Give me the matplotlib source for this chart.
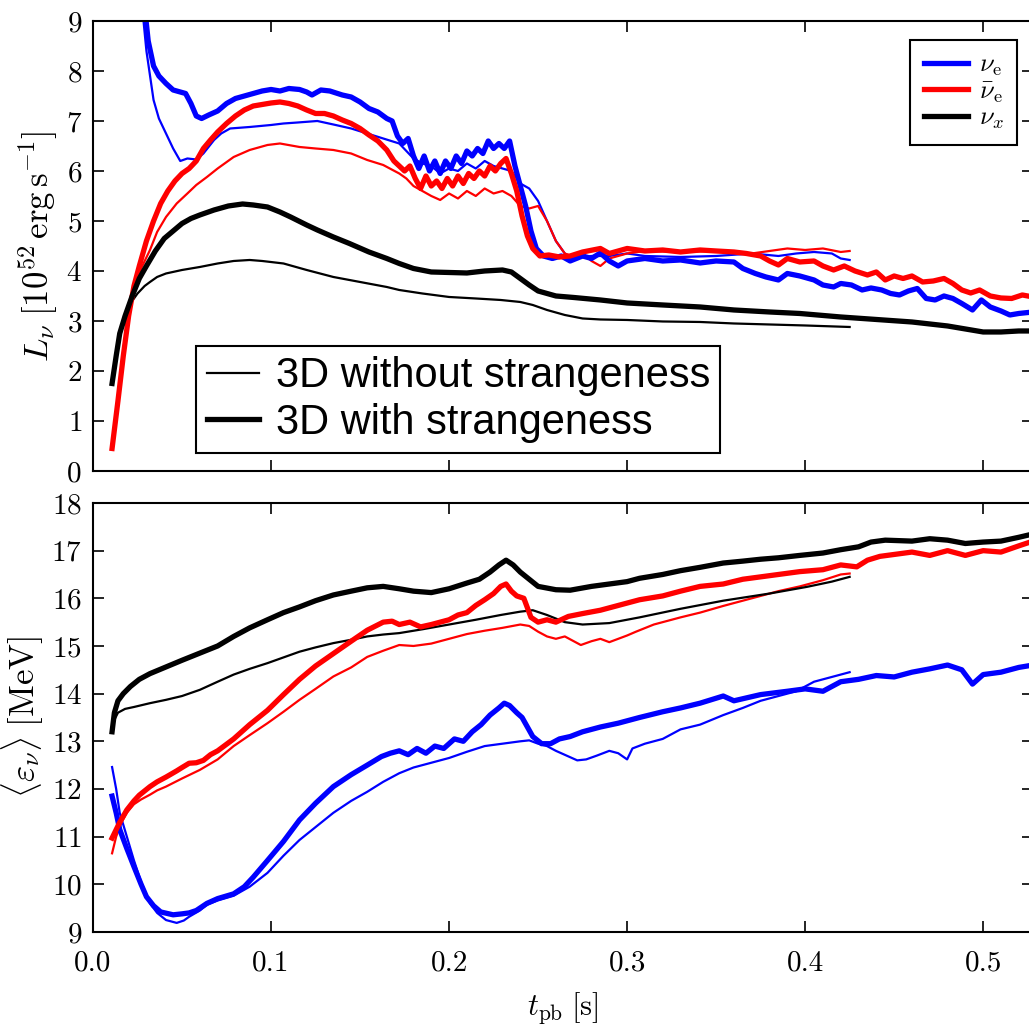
import matplotlib
matplotlib.use('Agg')
import matplotlib.pyplot as plt
from matplotlib.lines import Line2D
from matplotlib.font_manager import FontProperties

# ---- luminosity panel (top) ----
# thick = 3D with strangeness, thin = 3D without strangeness
t_lum_nue_s = [0.028, 0.031, 0.034, 0.037, 0.041, 0.045, 0.049, 0.052, 0.055, 0.058, 0.061, 0.065, 0.07, 0.075, 0.08, 0.085, 0.09, 0.095, 0.1, 0.105, 0.11, 0.116, 0.12, 0.123, 0.128, 0.133, 0.14, 0.145, 0.15, 0.155, 0.16, 0.165, 0.168, 0.171, 0.174, 0.177, 0.18, 0.183, 0.186, 0.189, 0.192, 0.195, 0.198, 0.201, 0.204, 0.207, 0.21, 0.213, 0.216, 0.219, 0.222, 0.225, 0.228, 0.231, 0.234, 0.237, 0.24, 0.243, 0.246, 0.249, 0.253, 0.258, 0.263, 0.268, 0.275, 0.28, 0.285, 0.29, 0.295, 0.3, 0.31, 0.32, 0.33, 0.341, 0.35, 0.36, 0.365, 0.372, 0.378, 0.385, 0.39, 0.397, 0.405, 0.41, 0.416, 0.42, 0.426, 0.432, 0.437, 0.443, 0.448, 0.453, 0.458, 0.463, 0.468, 0.473, 0.478, 0.483, 0.488, 0.494, 0.499, 0.504, 0.51, 0.515, 0.52, 0.528]
lum_nue_s = [9.6, 8.6, 8.1, 7.9, 7.75, 7.62, 7.58, 7.55, 7.35, 7.1, 7.05, 7.12, 7.2, 7.35, 7.45, 7.5, 7.55, 7.6, 7.63, 7.6, 7.65, 7.63, 7.58, 7.52, 7.62, 7.6, 7.52, 7.48, 7.38, 7.25, 7.18, 7.05, 7.0, 6.7, 6.55, 6.65, 6.3, 6.05, 6.3, 6.0, 6.2, 5.95, 6.2, 6.05, 6.3, 6.15, 6.4, 6.3, 6.45, 6.35, 6.6, 6.45, 6.55, 6.45, 6.6, 6.1, 5.7, 5.3, 4.8, 4.45, 4.3, 4.25, 4.3, 4.2, 4.3, 4.25, 4.36, 4.2, 4.1, 4.2, 4.25, 4.2, 4.22, 4.16, 4.2, 4.18, 4.05, 3.95, 3.88, 3.82, 3.95, 3.9, 3.82, 3.72, 3.68, 3.75, 3.72, 3.62, 3.66, 3.62, 3.55, 3.52, 3.6, 3.65, 3.45, 3.42, 3.5, 3.45, 3.35, 3.22, 3.42, 3.28, 3.2, 3.12, 3.15, 3.18]

t_lum_nueb_s = [0.0107, 0.014, 0.017, 0.02, 0.023, 0.026, 0.03, 0.034, 0.038, 0.042, 0.046, 0.05, 0.054, 0.058, 0.062, 0.066, 0.07, 0.075, 0.08, 0.085, 0.09, 0.095, 0.1, 0.105, 0.11, 0.115, 0.12, 0.125, 0.13, 0.135, 0.14, 0.145, 0.15, 0.155, 0.16, 0.165, 0.169, 0.172, 0.175, 0.178, 0.181, 0.184, 0.187, 0.19, 0.193, 0.196, 0.199, 0.202, 0.205, 0.208, 0.211, 0.214, 0.217, 0.22, 0.223, 0.226, 0.229, 0.232, 0.235, 0.238, 0.241, 0.244, 0.247, 0.251, 0.256, 0.262, 0.268, 0.275, 0.285, 0.29, 0.295, 0.3, 0.31, 0.32, 0.33, 0.341, 0.35, 0.36, 0.367, 0.375, 0.38, 0.385, 0.39, 0.397, 0.405, 0.41, 0.416, 0.422, 0.428, 0.435, 0.44, 0.445, 0.45, 0.455, 0.46, 0.466, 0.472, 0.478, 0.483, 0.488, 0.493, 0.498, 0.504, 0.51, 0.516, 0.522, 0.528]
lum_nueb_s = [0.45, 1.4, 2.3, 3.1, 3.7, 4.1, 4.6, 5.0, 5.35, 5.6, 5.8, 5.95, 6.05, 6.2, 6.45, 6.62, 6.78, 6.95, 7.1, 7.22, 7.3, 7.33, 7.36, 7.38, 7.35, 7.3, 7.22, 7.15, 7.15, 7.1, 7.02, 6.95, 6.85, 6.72, 6.6, 6.42, 6.2, 6.1, 6.0, 6.1, 5.85, 5.65, 5.9, 5.7, 5.8, 5.65, 5.85, 5.7, 5.9, 5.75, 5.95, 5.85, 6.0, 5.9, 6.1, 6.0, 6.15, 6.25, 5.95, 5.6, 5.1, 4.7, 4.45, 4.3, 4.32, 4.28, 4.3, 4.38, 4.45, 4.35, 4.4, 4.45, 4.4, 4.42, 4.38, 4.42, 4.4, 4.38, 4.35, 4.3, 4.2, 4.12, 4.25, 4.18, 4.2, 4.1, 4.02, 4.1, 4.0, 3.92, 3.98, 3.82, 3.9, 3.85, 3.9, 3.78, 3.8, 3.85, 3.75, 3.62, 3.56, 3.62, 3.5, 3.46, 3.45, 3.52, 3.48]

t_lum_nux_s = [0.0107, 0.013, 0.015, 0.018, 0.022, 0.026, 0.03, 0.035, 0.04, 0.045, 0.05, 0.055, 0.06, 0.068, 0.076, 0.084, 0.09, 0.098, 0.105, 0.111, 0.12, 0.126, 0.135, 0.144, 0.155, 0.165, 0.172, 0.18, 0.19, 0.2, 0.21, 0.22, 0.23, 0.235, 0.24, 0.245, 0.25, 0.26, 0.27, 0.285, 0.3, 0.32, 0.341, 0.36, 0.38, 0.397, 0.42, 0.44, 0.46, 0.48, 0.49, 0.5, 0.51, 0.52, 0.528]
lum_nux_s = [1.75, 2.3, 2.75, 3.1, 3.5, 3.85, 4.1, 4.4, 4.65, 4.8, 4.95, 5.05, 5.12, 5.22, 5.3, 5.34, 5.32, 5.28, 5.18, 5.08, 4.92, 4.82, 4.68, 4.55, 4.38, 4.25, 4.15, 4.05, 3.98, 3.97, 3.96, 4.0, 4.02, 3.98, 3.85, 3.72, 3.6, 3.5, 3.47, 3.42, 3.36, 3.32, 3.28, 3.22, 3.18, 3.15, 3.08, 3.03, 2.98, 2.9, 2.84, 2.78, 2.78, 2.8, 2.8]

t_lum_nue = [0.027, 0.03, 0.034, 0.037, 0.041, 0.045, 0.049, 0.053, 0.058, 0.062, 0.068, 0.072, 0.077, 0.088, 0.1, 0.107, 0.115, 0.126, 0.135, 0.145, 0.154, 0.163, 0.172, 0.176, 0.18, 0.185, 0.19, 0.195, 0.2, 0.205, 0.21, 0.215, 0.22, 0.225, 0.23, 0.235, 0.24, 0.245, 0.25, 0.255, 0.26, 0.265, 0.27, 0.28, 0.29, 0.3, 0.31, 0.33, 0.35, 0.37, 0.385, 0.395, 0.405, 0.415, 0.42, 0.425]
lum_nue = [9.5, 8.4, 7.42, 7.05, 6.75, 6.45, 6.2, 6.25, 6.23, 6.35, 6.62, 6.75, 6.85, 6.88, 6.92, 6.95, 6.97, 7.0, 6.93, 6.85, 6.75, 6.65, 6.55, 6.4, 6.25, 6.15, 6.1, 5.95, 6.05, 6.0, 6.15, 6.05, 6.2, 6.1, 6.05, 6.0, 5.75, 5.65, 5.4, 5.0, 4.6, 4.35, 4.25, 4.3, 4.3, 4.35, 4.3, 4.28, 4.3, 4.35, 4.3, 4.35, 4.38, 4.35, 4.25, 4.22]

t_lum_nueb = [0.0107, 0.014, 0.017, 0.02, 0.023, 0.027, 0.032, 0.036, 0.041, 0.047, 0.053, 0.058, 0.064, 0.07, 0.079, 0.088, 0.098, 0.105, 0.116, 0.125, 0.135, 0.145, 0.154, 0.163, 0.172, 0.176, 0.18, 0.185, 0.19, 0.195, 0.2, 0.205, 0.21, 0.215, 0.22, 0.225, 0.23, 0.235, 0.24, 0.245, 0.25, 0.255, 0.26, 0.265, 0.27, 0.275, 0.28, 0.285, 0.29, 0.3, 0.31, 0.33, 0.35, 0.37, 0.38, 0.39, 0.4, 0.41, 0.42, 0.425]
lum_nueb = [0.5, 1.5, 2.4, 3.1, 3.62, 4.05, 4.42, 4.78, 5.08, 5.35, 5.55, 5.72, 5.88, 6.05, 6.28, 6.42, 6.52, 6.55, 6.48, 6.45, 6.42, 6.35, 6.22, 6.12, 5.95, 5.85, 5.7, 5.6, 5.5, 5.42, 5.55, 5.45, 5.6, 5.5, 5.65, 5.55, 5.6, 5.5, 5.3, 5.25, 5.3, 5.0, 4.6, 4.35, 4.28, 4.35, 4.2, 4.1, 4.25, 4.35, 4.4, 4.38, 4.4, 4.35, 4.4, 4.45, 4.42, 4.45, 4.38, 4.4]

t_lum_nux = [0.0107, 0.013, 0.015, 0.018, 0.021, 0.025, 0.029, 0.032, 0.036, 0.041, 0.05, 0.06, 0.07, 0.079, 0.088, 0.095, 0.107, 0.12, 0.135, 0.15, 0.165, 0.172, 0.185, 0.2, 0.215, 0.229, 0.24, 0.247, 0.255, 0.265, 0.275, 0.285, 0.3, 0.32, 0.341, 0.36, 0.38, 0.4, 0.425]
lum_nux = [1.75, 2.3, 2.7, 3.05, 3.35, 3.55, 3.7, 3.78, 3.88, 3.95, 4.02, 4.08, 4.15, 4.2, 4.22, 4.2, 4.15, 4.02, 3.88, 3.78, 3.68, 3.62, 3.55, 3.48, 3.45, 3.42, 3.38, 3.32, 3.22, 3.12, 3.05, 3.03, 3.02, 2.99, 2.98, 2.95, 2.93, 2.91, 2.88]

# ---- mean energy panel (bottom) ----
t_en_nue_s = [0.0107, 0.013, 0.015, 0.019, 0.023, 0.027, 0.03, 0.034, 0.038, 0.045, 0.05, 0.054, 0.058, 0.064, 0.07, 0.079, 0.085, 0.09, 0.098, 0.107, 0.116, 0.125, 0.135, 0.145, 0.154, 0.162, 0.167, 0.172, 0.177, 0.182, 0.187, 0.192, 0.197, 0.203, 0.208, 0.213, 0.218, 0.223, 0.228, 0.231, 0.234, 0.238, 0.241, 0.244, 0.247, 0.252, 0.257, 0.262, 0.268, 0.275, 0.285, 0.295, 0.307, 0.32, 0.33, 0.341, 0.354, 0.36, 0.375, 0.39, 0.4, 0.41, 0.42, 0.43, 0.44, 0.45, 0.46, 0.47, 0.48, 0.488, 0.494, 0.5, 0.51, 0.52, 0.528]
en_nue_s = [11.85, 11.5, 11.15, 10.75, 10.37, 10.0, 9.74, 9.55, 9.42, 9.36, 9.38, 9.4, 9.45, 9.6, 9.7, 9.8, 9.95, 10.15, 10.5, 10.9, 11.35, 11.7, 12.05, 12.3, 12.5, 12.68, 12.75, 12.8, 12.72, 12.85, 12.75, 12.9, 12.85, 13.05, 13.0, 13.2, 13.35, 13.55, 13.7, 13.8, 13.75, 13.6, 13.5, 13.3, 13.1, 12.95, 12.95, 13.05, 13.1, 13.2, 13.3, 13.38, 13.5, 13.62, 13.7, 13.8, 13.95, 13.85, 13.98, 14.05, 14.1, 14.05, 14.25, 14.3, 14.38, 14.35, 14.45, 14.52, 14.6, 14.5, 14.2, 14.4, 14.45, 14.55, 14.6]

t_en_nueb_s = [0.0107, 0.015, 0.019, 0.023, 0.026, 0.032, 0.036, 0.041, 0.047, 0.05, 0.054, 0.058, 0.062, 0.066, 0.07, 0.079, 0.088, 0.098, 0.107, 0.116, 0.125, 0.135, 0.145, 0.154, 0.163, 0.168, 0.172, 0.178, 0.184, 0.19, 0.195, 0.2, 0.205, 0.21, 0.215, 0.22, 0.225, 0.229, 0.232, 0.235, 0.238, 0.242, 0.246, 0.25, 0.255, 0.26, 0.267, 0.275, 0.285, 0.295, 0.307, 0.32, 0.33, 0.341, 0.354, 0.365, 0.375, 0.385, 0.397, 0.41, 0.42, 0.429, 0.435, 0.442, 0.45, 0.46, 0.47, 0.48, 0.49, 0.5, 0.51, 0.52, 0.528]
en_nueb_s = [10.97, 11.3, 11.56, 11.75, 11.87, 12.05, 12.15, 12.25, 12.38, 12.45, 12.54, 12.55, 12.6, 12.72, 12.8, 13.05, 13.35, 13.65, 13.98, 14.3, 14.58, 14.84, 15.1, 15.33, 15.5, 15.52, 15.45, 15.5, 15.4, 15.45, 15.5, 15.55, 15.65, 15.7, 15.85, 15.97, 16.1, 16.25, 16.3, 16.15, 16.05, 16.0, 15.6, 15.5, 15.55, 15.5, 15.62, 15.68, 15.75, 15.85, 15.97, 16.05, 16.15, 16.25, 16.3, 16.4, 16.45, 16.5, 16.56, 16.6, 16.7, 16.66, 16.8, 16.88, 16.92, 16.97, 16.9, 17.0, 16.9, 17.0, 16.97, 17.1, 17.2]

t_en_nux_s = [0.0107, 0.012, 0.014, 0.017, 0.021, 0.026, 0.032, 0.041, 0.05, 0.06, 0.07, 0.079, 0.088, 0.098, 0.107, 0.116, 0.125, 0.135, 0.145, 0.154, 0.163, 0.172, 0.18, 0.19, 0.2, 0.21, 0.217, 0.223, 0.228, 0.232, 0.236, 0.24, 0.245, 0.25, 0.26, 0.268, 0.28, 0.29, 0.3, 0.307, 0.32, 0.33, 0.341, 0.354, 0.365, 0.375, 0.385, 0.397, 0.41, 0.42, 0.43, 0.437, 0.445, 0.46, 0.47, 0.48, 0.49, 0.5, 0.51, 0.52, 0.528]
en_nux_s = [13.2, 13.6, 13.85, 14.0, 14.15, 14.3, 14.42, 14.56, 14.7, 14.85, 15.0, 15.2, 15.38, 15.55, 15.7, 15.82, 15.95, 16.07, 16.15, 16.22, 16.25, 16.2, 16.15, 16.12, 16.2, 16.32, 16.4, 16.55, 16.7, 16.8, 16.7, 16.55, 16.4, 16.25, 16.18, 16.17, 16.25, 16.3, 16.35, 16.42, 16.5, 16.58, 16.65, 16.74, 16.78, 16.82, 16.85, 16.9, 16.95, 17.02, 17.08, 17.18, 17.22, 17.2, 17.25, 17.22, 17.15, 17.18, 17.2, 17.28, 17.35]

t_en_nue = [0.0107, 0.013, 0.015, 0.019, 0.023, 0.027, 0.032, 0.036, 0.041, 0.047, 0.051, 0.054, 0.06, 0.064, 0.07, 0.079, 0.088, 0.098, 0.107, 0.116, 0.125, 0.135, 0.145, 0.154, 0.163, 0.172, 0.18, 0.19, 0.2, 0.21, 0.22, 0.23, 0.24, 0.245, 0.25, 0.255, 0.26, 0.266, 0.272, 0.277, 0.283, 0.29, 0.295, 0.3, 0.303, 0.31, 0.32, 0.33, 0.341, 0.354, 0.365, 0.375, 0.385, 0.395, 0.405, 0.415, 0.425]
en_nue = [12.46, 12.0, 11.5, 11.0, 10.5, 10.05, 9.6, 9.4, 9.25, 9.19, 9.24, 9.32, 9.45, 9.57, 9.66, 9.76, 9.95, 10.24, 10.6, 10.93, 11.2, 11.5, 11.75, 11.94, 12.15, 12.33, 12.45, 12.55, 12.65, 12.78, 12.9, 12.95, 13.0, 13.02, 12.95, 12.9, 12.8, 12.7, 12.6, 12.62, 12.7, 12.8, 12.75, 12.62, 12.85, 12.95, 13.05, 13.25, 13.35, 13.55, 13.7, 13.85, 13.95, 14.05, 14.25, 14.35, 14.45]

t_en_nueb = [0.0107, 0.013, 0.016, 0.019, 0.023, 0.027, 0.032, 0.036, 0.041, 0.05, 0.06, 0.07, 0.079, 0.088, 0.098, 0.107, 0.116, 0.125, 0.135, 0.145, 0.154, 0.163, 0.172, 0.18, 0.19, 0.2, 0.21, 0.22, 0.23, 0.24, 0.245, 0.25, 0.255, 0.26, 0.265, 0.27, 0.274, 0.28, 0.285, 0.29, 0.295, 0.3, 0.305, 0.315, 0.33, 0.341, 0.354, 0.365, 0.375, 0.385, 0.397, 0.41, 0.42, 0.425]
en_nueb = [10.65, 11.0, 11.3, 11.5, 11.68, 11.78, 11.88, 11.97, 12.05, 12.22, 12.4, 12.62, 12.9, 13.13, 13.38, 13.62, 13.87, 14.1, 14.36, 14.55, 14.77, 14.9, 15.02, 15.0, 15.05, 15.15, 15.25, 15.32, 15.38, 15.45, 15.42, 15.3, 15.2, 15.15, 15.2, 15.1, 15.02, 15.1, 15.15, 15.08, 15.15, 15.22, 15.3, 15.45, 15.6, 15.7, 15.84, 15.95, 16.05, 16.15, 16.25, 16.38, 16.5, 16.52]

t_en_nux = [0.0107, 0.012, 0.014, 0.018, 0.023, 0.032, 0.041, 0.05, 0.06, 0.07, 0.079, 0.088, 0.098, 0.107, 0.116, 0.125, 0.135, 0.145, 0.154, 0.163, 0.172, 0.185, 0.2, 0.215, 0.229, 0.24, 0.247, 0.255, 0.265, 0.275, 0.29, 0.307, 0.33, 0.354, 0.38, 0.401, 0.415, 0.425]
en_nux = [13.2, 13.45, 13.6, 13.68, 13.72, 13.8, 13.87, 13.95, 14.08, 14.25, 14.4, 14.52, 14.64, 14.76, 14.88, 14.97, 15.06, 15.13, 15.2, 15.24, 15.27, 15.35, 15.45, 15.55, 15.65, 15.72, 15.75, 15.65, 15.5, 15.45, 15.48, 15.6, 15.78, 15.95, 16.1, 16.24, 16.35, 16.45]

flavour_labels = [r'$\nu_\mathrm{e}$', r'$\bar{\nu}_\mathrm{e}$', r'$\nu_x$']
model_labels = ['3D without strangeness', '3D with strangeness']
colors = ['#0000ff', '#ff0000', '#000000']

plt.rcParams['font.family'] = 'serif'
plt.rcParams['font.serif'] = ['cmr10', 'DejaVu Serif']
plt.rcParams['mathtext.fontset'] = 'cm'
plt.rcParams['axes.unicode_minus'] = False
plt.rcParams['axes.formatter.use_mathtext'] = True

THIN = 1.6
THICK = 3.8

fig = plt.figure(figsize=(10.29, 10.29), dpi=100)
ax1 = fig.add_axes([0.0904, 0.5423, 0.9135, 0.4373])
ax2 = fig.add_axes([0.0904, 0.0943, 0.9135, 0.4169])

top_thin = [(t_lum_nue, lum_nue), (t_lum_nueb, lum_nueb), (t_lum_nux, lum_nux)]
top_thick = [(t_lum_nue_s, lum_nue_s), (t_lum_nueb_s, lum_nueb_s), (t_lum_nux_s, lum_nux_s)]
bot_thin = [(t_en_nue, en_nue), (t_en_nueb, en_nueb), (t_en_nux, en_nux)]
bot_thick = [(t_en_nue_s, en_nue_s), (t_en_nueb_s, en_nueb_s), (t_en_nux_s, en_nux_s)]

for ax, thin, thick in [(ax1, top_thin, top_thick), (ax2, bot_thin, bot_thick)]:
    for (t, y), c in zip(thin, colors):
        ax.plot(t, y, color=c, lw=THIN)
    for (t, y), c in zip(thick, colors):
        ax.plot(t, y, color=c, lw=THICK)

for ax in (ax1, ax2):
    ax.set_xlim(0, 0.528)
    ax.set_xticks([0.0, 0.1, 0.2, 0.3, 0.4, 0.5])
    ax.tick_params(direction='in', top=True, right=True, length=8, width=1.2,
                   labelsize=21)
    ax.tick_params(axis='y', pad=8)
    ax.tick_params(axis='x', pad=13)
    for sp in ax.spines.values():
        sp.set_linewidth(1.5)

ax1.set_ylim(0, 9)
ax1.set_yticks(range(0, 10))
ax1.tick_params(labelbottom=False)
ax1.set_ylabel(r'$L_\nu\;[10^{52}\,\mathrm{erg\,s^{-1}}]$', fontsize=25, labelpad=4)

ax2.set_ylim(9, 18)
ax2.set_yticks(range(9, 19))
ax2.set_xticklabels(['0.0', '0.1', '0.2', '0.3', '0.4', '0.5'])
ax2.set_ylabel(r'$\langle\varepsilon_\nu\rangle\;[\mathrm{MeV}]$', fontsize=25, labelpad=4)
ax2.set_xlabel(r'$t_\mathrm{pb}\;[\mathrm{s}]$', fontsize=22, labelpad=10)
fig.align_ylabels([ax1, ax2])

# legend for the models (line thickness)
model_handles = [Line2D([], [], color='k', lw=THIN), Line2D([], [], color='k', lw=THICK)]
leg1 = ax1.legend(model_handles, model_labels, loc='lower left',
                  bbox_to_anchor=(0.11, 0.04), borderaxespad=0,
                  prop=FontProperties(family='Liberation Sans', size=30),
                  frameon=True, fancybox=False, edgecolor='k', framealpha=1,
                  handlelength=1.25, handletextpad=0.4, labelspacing=0.15,
                  borderpad=0.25)
leg1.get_frame().set_linewidth(1.5)
ax1.add_artist(leg1)

# legend for the flavours (colour)
flav_handles = [Line2D([], [], color=c, lw=THICK) for c in colors]
leg2 = ax1.legend(flav_handles, flavour_labels, loc='upper right',
                  bbox_to_anchor=(0.983, 0.958), borderaxespad=0,
                  fontsize=19, frameon=True, fancybox=False, edgecolor='k',
                  framealpha=1, handlelength=1.7, handletextpad=0.4,
                  labelspacing=0.05, borderpad=0.5)
leg2.get_frame().set_linewidth(1.5)

fig.savefig('out.png', dpi=100)
